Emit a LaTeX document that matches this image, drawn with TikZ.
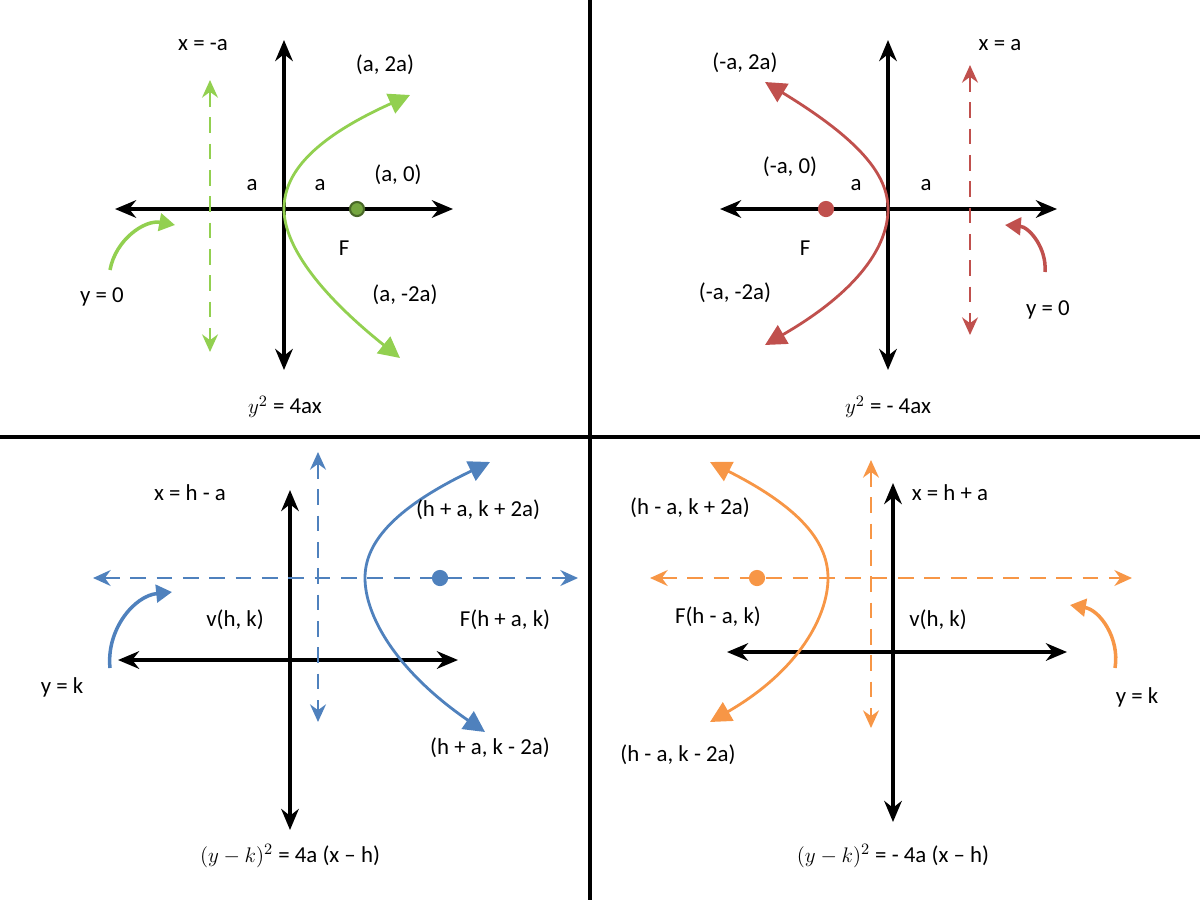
\documentclass[tikz,border=0pt]{standalone}
\usepackage{fontspec}
\setmainfont{Carlito}
\usetikzlibrary{arrows.meta}
\definecolor{pgreen}{HTML}{92D050}
\definecolor{pred}{HTML}{C0504D}
\definecolor{pblue}{HTML}{4F81BD}
\definecolor{porange}{HTML}{F79646}
\begin{document}
\begin{tikzpicture}[x=0.02cm, y=-0.02cm,
    font=\fontsize{13}{15}\selectfont,
    % axes and curves
    axis/.style={{Stealth[length=12pt,width=10pt]}-{Stealth[length=12pt,width=10pt]}, line width=2pt, black},
    curve/.style={{Triangle[length=12pt,width=12pt]}-{Triangle[length=12pt,width=12pt]}, line width=1.6pt},
    dir/.style={{Stealth[length=10pt,width=9pt]}-{Stealth[length=10pt,width=9pt]}, line width=1.6pt, dashed, dash pattern=on 9pt off 6pt},
    bent/.style={-{Triangle[length=9pt,width=10pt]}, line width=2pt},
    focus/.style={circle, inner sep=0pt, minimum size=8pt, line width=1.2pt},
    lbl/.style={inner sep=1pt}
]
\useasboundingbox (0,0) rectangle (1200,900);

% --- Separadores ---
\draw[line width=2.5pt] (590,0) -- (590,900);
\draw[line width=2.5pt] (0,437) -- (1200,437);

% === Cuadrante 1 ===
\coordinate (l1) at (115,209); \coordinate (r1) at (453,209);
\coordinate (t1) at (284,40);  \coordinate (b1) at (284,370);
\draw[axis] (l1) -- (r1);
\draw[axis] (t1) -- (b1);
\coordinate (dt1) at (210,80); \coordinate (db1) at (210,352);
\draw[dir, pgreen] (dt1) -- (db1);
\coordinate (pa1) at (410,95); \coordinate (v1) at (284,209); \coordinate (pb1) at (400,358);
\draw[curve, pgreen] (pa1) .. controls (310,140) and (284,175) .. (v1) .. controls (284,243) and (315,290) .. (pb1);
\node[focus, draw=pgreen!50!black, fill=pgreen!80!black] (f1) at (357,209) {};
\coordinate (cs1) at (110,270); \coordinate (ce1) at (175,225);
\draw[bent, pgreen] (cs1) to[bend left=45] (ce1);
\node[lbl] (xa1) at (203,45) {x = -a};
\node[lbl] (pt1) at (385,65) {(a, 2a)};
\node[lbl] (a11) at (252,185) {a};
\node[lbl] (a12) at (320,185) {a};
\node[lbl] (fo1) at (398,175) {(a, 0)};
\node[lbl] (F1) at (344,248) {F};
\node[lbl] (pm1) at (405,295) {(a, -2a)};
\node[lbl] (y1) at (102,297) {y = 0};
\node[lbl] (eq1) at (285,407) {$y^2$ = 4ax};

% === Cuadrante 2 ===
\coordinate (l2) at (720,209); \coordinate (r2) at (1057,209);
\coordinate (t2) at (888,40);  \coordinate (b2) at (888,370);
\draw[axis] (l2) -- (r2);
\draw[axis] (t2) -- (b2);
\coordinate (dt2) at (970,65); \coordinate (db2) at (970,335);
\draw[dir, pred] (dt2) -- (db2);
\coordinate (pa2) at (765,82); \coordinate (v2) at (888,209); \coordinate (pb2) at (765,345);
\draw[curve, pred] (pa2) .. controls (860,140) and (888,175) .. (v2) .. controls (888,245) and (860,290) .. (pb2);
\node[focus, draw=pred, fill=pred] (f2) at (826,209) {};
\coordinate (cs2) at (1045,272); \coordinate (ce2) at (1005,225);
\draw[bent, pred] (cs2) to[bend right=45] (ce2);
\node[lbl] (xa2) at (1000,45) {x = a};
\node[lbl] (pt2) at (745,63) {(-a, 2a)};
\node[lbl] (fo2) at (790,167) {(-a, 0)};
\node[lbl] (a21) at (856,185) {a};
\node[lbl] (a22) at (926,185) {a};
\node[lbl] (F2) at (805,248) {F};
\node[lbl] (pm2) at (735,293) {(-a, -2a)};
\node[lbl] (y2) at (1048,310) {y = 0};
\node[lbl] (eq2) at (888,407) {$y^2$ = - 4ax};

% === Cuadrante 3 ===
\coordinate (l3) at (118,660); \coordinate (r3) at (458,660);
\coordinate (t3) at (290,490); \coordinate (b3) at (290,830);
\draw[axis] (l3) -- (r3);
\draw[axis] (t3) -- (b3);
\coordinate (hl3) at (93,578); \coordinate (hr3) at (578,578);
\draw[dir, pblue] (hl3) -- (hr3);
\coordinate (dt3) at (318,452); \coordinate (db3) at (318,722);
\draw[dir, pblue] (dt3) -- (db3);
\coordinate (pa3) at (490,462); \coordinate (v3) at (365,578); \coordinate (pb3) at (485,732);
\draw[curve, pblue] (pa3) .. controls (390,510) and (365,545) .. (v3) .. controls (365,615) and (395,670) .. (pb3);
\node[focus, draw=pblue, fill=pblue] (f3) at (440,578) {};
\coordinate (cs3) at (110,668); \coordinate (ce3) at (172,592);
\draw[bent, pblue] (cs3) to[bend left=45] (ce3);
\node[lbl] (xa3) at (190,493) {x = h - a};
\node[lbl] (pt3) at (478,510) {(h + a, k + 2a)};
\node[lbl] (vt3) at (235,620) {v(h, k)};
\node[lbl] (F3) at (505,620) {F(h + a, k)};
\node[lbl] (y3) at (62,687) {y = k};
\node[lbl] (pm3) at (490,748) {(h + a, k - 2a)};
\node[lbl] (eq3) at (290,856) {$(y-k)^2$ = 4a (x – h)};

% === Cuadrante 4 ===
\coordinate (l4) at (727,652); \coordinate (r4) at (1067,652);
\coordinate (t4) at (893,483); \coordinate (b4) at (893,822);
\draw[axis] (l4) -- (r4);
\draw[axis] (t4) -- (b4);
\coordinate (hl4) at (650,578); \coordinate (hr4) at (1132,578);
\draw[dir, porange] (hl4) -- (hr4);
\coordinate (dt4) at (871,460); \coordinate (db4) at (871,728);
\draw[dir, porange] (dt4) -- (db4);
\coordinate (pa4) at (710,462); \coordinate (v4) at (828,578); \coordinate (pb4) at (710,722);
\draw[curve, porange] (pa4) .. controls (805,510) and (828,545) .. (v4) .. controls (828,615) and (800,670) .. (pb4);
\node[focus, draw=porange, fill=porange] (f4) at (757,578) {};
\coordinate (cs4) at (1115,668); \coordinate (ce4) at (1070,605);
\draw[bent, porange] (cs4) to[bend right=45] (ce4);
\node[lbl] (xa4) at (950,493) {x = h + a};
\node[lbl] (pt4) at (690,508) {(h - a, k + 2a)};
\node[lbl] (F4) at (718,617) {F(h - a, k)};
\node[lbl] (vt4) at (938,620) {v(h, k)};
\node[lbl] (y4) at (1137,697) {y = k};
\node[lbl] (pm4) at (678,755) {(h - a, k - 2a)};
\node[lbl] (eq4) at (893,856) {$(y-k)^2$ = - 4a (x – h)};
\end{tikzpicture}
\end{document}
